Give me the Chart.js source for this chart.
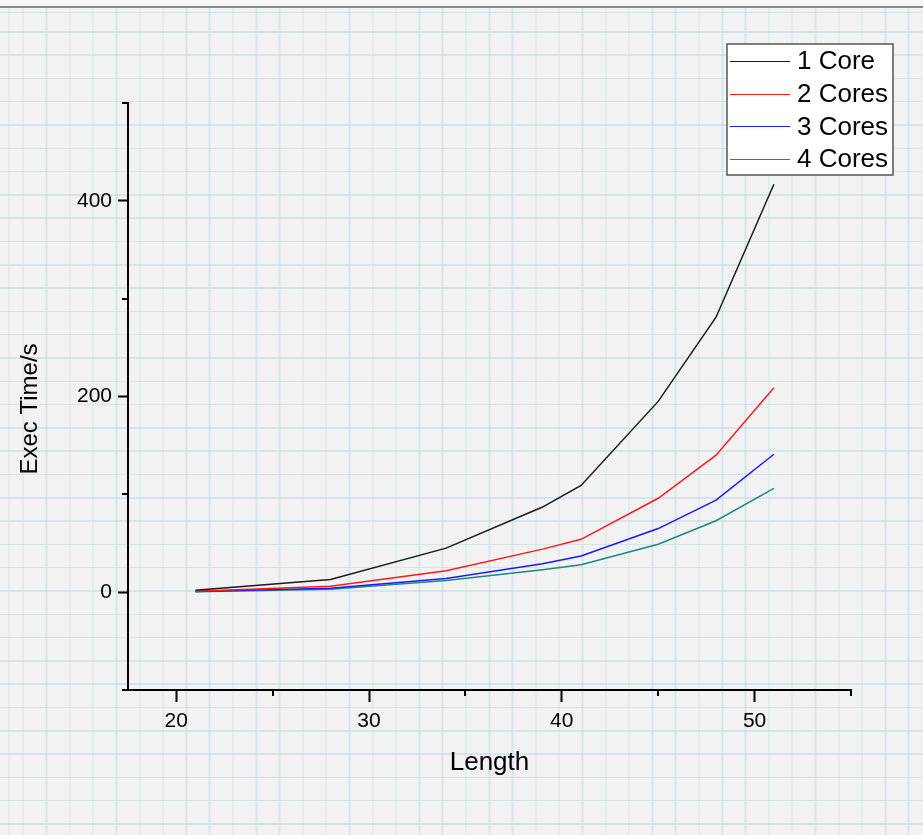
<!DOCTYPE html>
<html>
<head>
<meta charset="utf-8">
<script src="https://cdn.jsdelivr.net/npm/chart.js@4.4.1/dist/chart.umd.min.js"></script>
<style>
  html, body { margin: 0; padding: 0; }
  body {
    width: 923px; height: 835px; overflow: hidden; position: relative;
    background-color: #f2f2f2;
    background-image:
      repeating-linear-gradient(90deg, rgba(175,210,224,0.4) 0px, rgba(175,210,224,0.4) 1.5px, transparent 1.5px, transparent 23.3px),
      repeating-linear-gradient(0deg, rgba(175,210,224,0.4) 0px, rgba(175,210,224,0.4) 1.5px, transparent 1.5px, transparent 23.3px);
    background-position: 22.5px 13px;
  }
  #topline { position: absolute; left: 0; top: 0; width: 923px; height: 6px; background: #f6f6f6; border-bottom: 2px solid #8a8a8a; }
  canvas { position: absolute; left: 0; top: 0; }
</style>
</head>
<body>
<div id="topline"></div>
<canvas id="chart" width="923" height="835"></canvas>
<script>
// data
const lengths = [21, 28, 34, 39, 41, 45, 48, 51];
const core1 = [2, 13, 45, 87, 109, 195, 281, 417];
const core2 = [1, 6, 22, 44, 54, 96, 140, 209];
const core3 = [0.8, 4, 14, 29, 37, 65, 94, 141];
const core4 = [0.5, 3, 12, 23, 28, 49, 73, 106];

const seriesNames = ['1 Core', '2 Cores', '3 Cores', '4 Cores'];
const seriesColors = ['#1a1a1a', '#ff1a1a', '#1a1aff', '#1a8a80'];

const xTicks = [20, 30, 40, 50];
const xMinor = [25, 35, 45, 55];
const yTicks = [0, 200, 400];
const yMinor = [-100, 100, 300, 500];

const FONT = '"Liberation Sans", Arial, sans-serif';

function toPoints(vals) {
    return lengths.map((x, i) => ({ x: x, y: vals[i] }));
}

// minor ticks, y title and legend box
const extras = {
    id: 'extras',
    afterDraw(chart) {
        const ctx = chart.ctx;
        const xs = chart.scales.x, ys = chart.scales.y;
        ctx.save();
        ctx.strokeStyle = '#000';
        ctx.lineWidth = 2;
        xMinor.forEach(v => {
            const px = Math.round(xs.getPixelForValue(v));
            ctx.beginPath();
            ctx.moveTo(px, xs.top);
            ctx.lineTo(px, xs.top + 6);
            ctx.stroke();
        });
        yMinor.forEach(v => {
            const py = Math.round(ys.getPixelForValue(v));
            ctx.beginPath();
            ctx.moveTo(ys.right, py);
            ctx.lineTo(ys.right - 6, py);
            ctx.stroke();
        });

        // y axis title (a bit below the axis centre, as in the original)
        ctx.save();
        ctx.translate(30, 409);
        ctx.rotate(-Math.PI / 2);
        ctx.font = '24px ' + FONT;
        ctx.fillStyle = '#000';
        ctx.textAlign = 'center';
        ctx.textBaseline = 'middle';
        ctx.fillText('Exec Time/s', 0, 0);
        ctx.restore();

        // legend
        const bx = 727, by = 44, bw = 166, bh = 131;
        ctx.fillStyle = '#fff';
        ctx.fillRect(bx, by, bw, bh);
        ctx.strokeStyle = '#555';
        ctx.lineWidth = 1.5;
        ctx.strokeRect(bx, by, bw, bh);
        ctx.font = '26px ' + FONT;
        ctx.textBaseline = 'middle';
        chart.data.datasets.forEach((ds, i) => {
            const cy = 61 + i * 32.7;
            ctx.strokeStyle = ds.borderColor;
            ctx.lineWidth = 1.2;
            ctx.beginPath();
            ctx.moveTo(730, Math.round(cy) + 0.5);
            ctx.lineTo(790, Math.round(cy) + 0.5);
            ctx.stroke();
            ctx.fillStyle = '#000';
            ctx.fillText(ds.label, 797, cy + 1);
        });
        ctx.restore();
    }
};

new Chart(document.getElementById('chart').getContext('2d'), {
    type: 'line',
    data: {
        datasets: [core1, core2, core3, core4].map((vals, i) => ({
            label: seriesNames[i],
            data: toPoints(vals),
            borderColor: seriesColors[i],
            backgroundColor: seriesColors[i],
            borderWidth: 1.5,
            pointRadius: 0,
            tension: 0,
            fill: false
        }))
    },
    options: {
        responsive: false,
        animation: false,
        devicePixelRatio: 1,
        layout: { padding: { top: 103, right: 72, left: 0, bottom: 0 } },
        plugins: { legend: { display: false }, tooltip: { enabled: false } },
        scales: {
            x: {
                type: 'linear',
                min: 17.5,
                max: 55,
                afterBuildTicks: s => { s.ticks = xTicks.map(v => ({ value: v })); },
                afterFit: s => { s.height = 145; },
                grid: { display: true, drawOnChartArea: false, drawTicks: true, tickLength: 12, tickColor: '#000', tickWidth: 2 },
                border: { display: true, color: '#000', width: 2 },
                ticks: { color: '#000', padding: 7, font: { family: FONT, size: 21 }, maxRotation: 0 },
                title: { display: true, text: 'Length', color: '#000', font: { family: FONT, size: 26 }, padding: { top: 0, bottom: 57 } }
            },
            y: {
                type: 'linear',
                min: -100,
                max: 500,
                afterBuildTicks: s => { s.ticks = yTicks.map(v => ({ value: v })); },
                afterFit: s => { s.width = 128; },
                grid: { display: true, drawOnChartArea: false, drawTicks: true, tickLength: 10, tickColor: '#000', tickWidth: 2 },
                border: { display: true, color: '#000', width: 2 },
                ticks: { color: '#000', padding: 6, font: { family: FONT, size: 21 } }
            }
        }
    },
    plugins: [extras]
});
</script>
</body>
</html>
